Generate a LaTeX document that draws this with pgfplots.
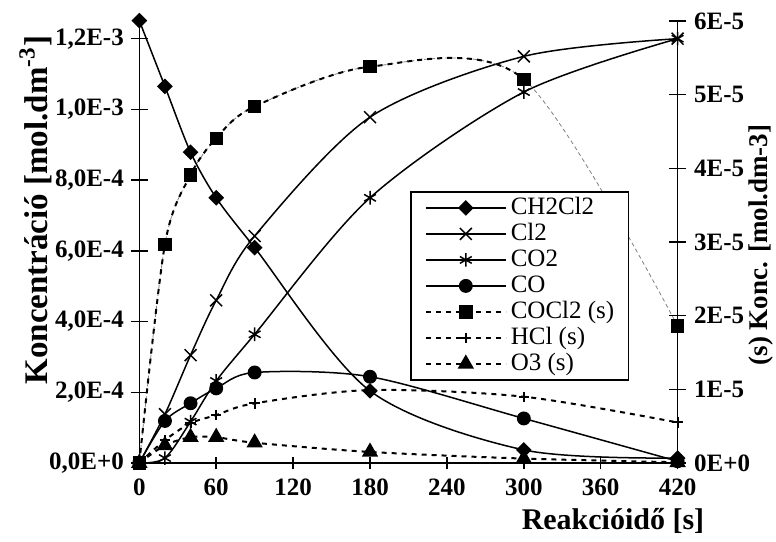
\documentclass[border=0pt]{standalone}
\usepackage{fontspec}
\setmainfont{Liberation Serif}
\usepackage{pgfplots}
\pgfplotsset{compat=1.18}
\newcommand\tickfont{\fontsize{12.5bp}{14bp}\selectfont\bfseries}
\newcommand\titlefont{\fontsize{15bp}{18bp}\selectfont\bfseries}
\newcommand\righttitlefont{\fontsize{13.5bp}{16bp}\selectfont\bfseries}
\newcommand\bigtitlefont{\fontsize{16.5bp}{20bp}\selectfont\bfseries}
\newcommand\legfont{\fontsize{12.5bp}{14bp}\selectfont}
\pgfplotsset{
  base/.style={scale only axis, width=269.15bp, height=221bp,
    at={(0,0)}, anchor=south west, xmin=0, xmax=420},
  solidline/.style={black, line width=0.75bp, solid, smooth},
  dashline/.style={black, line width=1bp, dash pattern=on 2.5bp off 2.5bp, smooth},
}
\begin{document}
\begin{tikzpicture}
\path[use as bounding box] (-69.65bp,-39.5bp) rectangle (318.35bp,231.5bp);

% left axis
\begin{axis}[base, ymin=0, ymax=1.25e-3, clip=false,
  axis x line*=bottom, axis y line*=left,
  axis line style={line width=0.75bp},
  every tick/.style={black, line width=0.75bp},
  tick align=center, major tick length=8.5bp,
  xtick style={/pgfplots/major tick length=6.25bp},
  xtick={0,60,...,420}, xticklabels={0,60,120,180,240,300,360,420},
  ytick={0,2e-4,4e-4,6e-4,8e-4,1e-3,1.2e-3},
  yticklabels={{0,0E+0},{2,0E-4},{4,0E-4},{6,0E-4},{8,0E-4},{1,0E-3},{1,2E-3}},
  scaled y ticks=false,
  tick label style={font=\tickfont},
  xlabel={Reakcióidő [s]}, ylabel={Koncentráció [mol.dm\textsuperscript{-3}]},
  xlabel style={font=\titlefont, at={(axis description cs:0.88,-0.131)}, anchor=center},
  ylabel style={font=\bigtitlefont, at={(axis description cs:-0.193,0.572)}, anchor=center},
]
% CH2Cl2
\addplot[solidline, mark=square*, mark size=2.4bp, mark options={rotate=45, solid}] coordinates {
 (0,1.251e-3) (20,1.065e-3) (40,8.79e-4) (60,7.50e-4) (90,6.09e-4) (180,2.04e-4) (300,3.7e-5) (420,1.4e-5)};
% Cl2
\addplot[solidline, mark=x, mark size=4.2bp, mark options={solid}] coordinates {
 (0,0) (20,1.38e-4) (40,3.05e-4) (60,4.6e-4) (90,6.42e-4) (180,9.78e-4) (300,1.15e-3) (420,1.2e-3)};
% CO2
\addplot[solidline, mark=asterisk, mark size=3.4bp, mark options={solid}] coordinates {
 (0,0) (20,1.4e-5) (40,1.17e-4) (60,2.32e-4) (90,3.64e-4) (180,7.5e-4) (300,1.049e-3) (420,1.2e-3)};
% CO
\addplot[solidline, mark=*, mark size=3.1bp, mark options={solid}] coordinates {
 (0,0) (20,1.19e-4) (40,1.69e-4) (60,2.11e-4) (90,2.56e-4) (180,2.44e-4) (300,1.26e-4) (420,5e-6)};
\end{axis}

% right axis
\begin{axis}[base, ymin=0, ymax=6e-5, clip=false,
  axis x line=none, axis y line*=right,
  axis line style={line width=0.75bp},
  every tick/.style={black, line width=0.75bp},
  tick align=center, major tick length=8.5bp,
  ytick={0,1e-5,2e-5,3e-5,4e-5,5e-5,6e-5},
  yticklabels={0E+0,1E-5,2E-5,3E-5,4E-5,5E-5,6E-5},
  scaled y ticks=false,
  tick label style={font=\tickfont},
  yticklabel style={xshift=0.5bp},
  ylabel={(s) Konc. [mol.dm-3]},
  ylabel style={font=\righttitlefont, at={(axis description cs:1.155,0.493)}, anchor=center},
  legend image code/.code={\path (0bp,0bp); \draw[mark repeat=2, mark phase=2, #1]
    plot coordinates {(2bp,0bp) (22bp,0bp) (42bp,0bp)};},
  legend cell align=left,
  legend style={at={(0.503,0.615)}, anchor=north west, font=\legfont,
    draw=black, line width=0.75bp, fill=white,
    inner xsep=5bp, inner ysep=1.5bp, row sep=0pt,
    nodes={inner ysep=0.6bp, text height=9bp, text depth=2.8bp}},
]
\addlegendimage{black, line width=0.75bp, solid, mark=square*, mark size=2.4bp, mark options={rotate=45}}
\addlegendimage{black, line width=0.75bp, solid, mark=x, mark size=4.2bp}
\addlegendimage{black, line width=0.75bp, solid, mark=asterisk, mark size=3.4bp}
\addlegendimage{black, line width=0.75bp, solid, mark=*, mark size=3.1bp}
\addlegendimage{black, line width=1bp, dash pattern=on 2.5bp off 2.5bp, mark=square*, mark size=3.1bp, mark options={solid}}
\addlegendimage{black, line width=1bp, dash pattern=on 2.5bp off 2.5bp, mark=+, mark size=2.6bp, mark options={solid}}
\addlegendimage{black, line width=1bp, dash pattern=on 2.5bp off 2.5bp, mark=triangle*, mark size=3.75bp, mark options={solid}}
% COCl2 (s): thin grey full curve, black part drawn in the clipped axis below
\addplot[gray, line width=0.4bp, dash pattern=on 2bp off 1.5bp, smooth, forget plot] coordinates {
 (0,0) (20,2.97e-5) (40,3.91e-5) (60,4.41e-5) (90,4.84e-5) (180,5.38e-5) (300,5.21e-5) (420,1.86e-5)};
\addplot[only marks, mark=square*, mark size=3.1bp, forget plot] coordinates {
 (0,0) (20,2.97e-5) (40,3.91e-5) (60,4.41e-5) (90,4.84e-5) (180,5.38e-5) (300,5.21e-5) (420,1.86e-5)};
% HCl (s)
\addplot[dashline, mark=+, mark size=2.6bp, mark options={solid}, forget plot] coordinates {
 (0,0) (20,3.1e-6) (40,5.4e-6) (60,6.5e-6) (90,8.1e-6) (180,9.9e-6) (300,9.0e-6) (420,5.5e-6)};
% O3 (s)
\addplot[dashline, mark=triangle*, mark size=3.75bp, mark options={solid}, forget plot] coordinates {
 (0,0) (20,2.4e-6) (40,3.5e-6) (60,3.5e-6) (90,2.75e-6) (180,1.5e-6) (300,6e-7) (420,1e-7)};
\legend{CH2Cl2,Cl2,CO2,CO,COCl2 (s),HCl (s),O3 (s)}
\end{axis}

% COCl2 (s) black dashed part, clipped at 300 s
\begin{axis}[scale only axis, width=192.25bp, height=221bp,
  at={(0,0)}, anchor=south west, xmin=0, xmax=300, ymin=0, ymax=6e-5,
  axis lines=none, clip=true]
\addplot[dashline] coordinates {
 (0,0) (20,2.97e-5) (40,3.91e-5) (60,4.41e-5) (90,4.84e-5) (180,5.38e-5) (300,5.21e-5) (420,1.86e-5)};
\end{axis}
\end{tikzpicture}
\end{document}
